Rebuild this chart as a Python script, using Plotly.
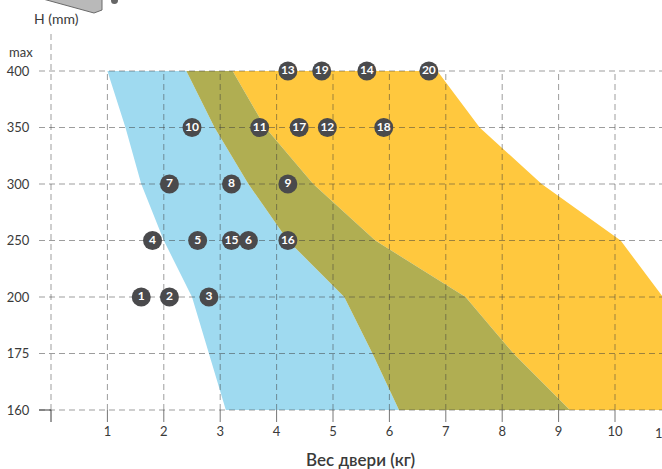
import plotly.graph_objects as go

y_labels = ["160", "175", "200", "250", "300", "350", "400"]
y_pos = [0, 1, 2, 3, 4, 5, 6]
x_ticks = [1, 2, 3, 4, 5, 6, 7, 8, 9, 10]

blue_x = [1.0, 1.32, 1.6, 2.0, 2.5, 2.8, 3.1, 6.17, 5.7, 5.2, 4.2, 3.5, 2.9, 2.4]
blue_y = [6, 5, 4, 3, 2, 1, 0, 0, 1, 2, 3, 4, 5, 6]
olive_x = [2.4, 2.9, 3.5, 4.2, 5.2, 5.7, 6.17, 9.2, 8.2, 7.35, 5.75, 4.65, 3.8, 3.22]
olive_y = [6, 5, 4, 3, 2, 1, 0, 0, 1, 2, 3, 4, 5, 6]
yellow_x = [3.22, 3.8, 4.65, 5.75, 7.35, 8.2, 9.2, 10.85, 10.85, 10.1, 8.7, 7.6, 6.85]
yellow_y = [6, 5, 4, 3, 2, 1, 0, 0, 2, 3, 4, 5, 6]

pt_labels = ["1", "2", "3", "4", "5", "15", "6", "16", "7", "8", "9",
             "10", "11", "17", "12", "18", "13", "19", "14", "20"]
pt_x = [1.6, 2.1, 2.8, 1.8, 2.6, 3.2, 3.5, 4.2, 2.1, 3.2, 4.2,
        2.5, 3.7, 4.4, 4.9, 5.9, 4.2, 4.8, 5.6, 6.7]
pt_y = [2, 2, 2, 3, 3, 3, 3, 3, 4, 4, 4, 5, 5, 5, 5, 5, 6, 6, 6, 6]

W, H = 662, 469
L, R, T, B = 39, 662, 34, 422
UX = 56.4
UY = 56.5
X0 = 51
Y0 = 410
xr = [(L - X0) / UX, (R - X0) / UX]
yr = [(Y0 - B) / UY, (Y0 - T) / UY]
INK = "#3a3a3a"
GRID = "rgba(60,60,60,0.5)"
DASH = "6px,4px"

fig = go.Figure()
for xs, ys, c in [(yellow_x, yellow_y, "#FFC83E"), (blue_x, blue_y, "#9FDAF0"), (olive_x, olive_y, "#B0AE52")]:
    fig.add_trace(go.Scatter(x=xs, y=ys, mode="lines", fill="toself", fillcolor=c,
                             line=dict(width=0), hoverinfo="skip", showlegend=False))

for p in y_pos:
    fig.add_trace(go.Scatter(x=[xr[0], xr[1]], y=[p, p], mode="lines",
                             line=dict(color=GRID, width=1, dash=DASH), showlegend=False))
for v in x_ticks:
    fig.add_trace(go.Scatter(x=[v, v], y=[0, 6], mode="lines",
                             line=dict(color=GRID, width=1, dash=DASH), showlegend=False))
    fig.add_trace(go.Scatter(x=[v, v], y=[yr[0], 0], mode="lines",
                             line=dict(color="rgba(60,60,60,0.7)", width=1), showlegend=False))
fig.add_trace(go.Scatter(x=[0, 0], y=[0, yr[1]], mode="lines",
                         line=dict(color=GRID, width=1, dash=DASH), showlegend=False))
fig.add_trace(go.Scatter(x=[0, 0], y=[yr[0], 0], mode="lines",
                         line=dict(color=INK, width=1), showlegend=False))
fig.add_trace(go.Scatter(x=[xr[0], 0], y=[0, 0], mode="lines",
                         line=dict(color=INK, width=1), showlegend=False))

fig.add_trace(go.Scatter(x=pt_x, y=pt_y, mode="markers+text", text=pt_labels,
                         textposition="middle center",
                         textfont=dict(family="Lato", size=12, color="white", weight="bold"),
                         marker=dict(size=19, color="#4A4A4C", line=dict(width=0)),
                         showlegend=False))

fig.update_xaxes(range=xr, tickmode="array", tickvals=x_ticks, ticktext=[str(v) for v in x_ticks],
                 showgrid=False, zeroline=False, showline=False, ticks="", ticklen=0,
                 tickfont=dict(family="Lato", size=13, color=INK))
fig.update_yaxes(range=yr, tickmode="array", tickvals=y_pos, ticktext=y_labels,
                 showgrid=False, zeroline=False, showline=False, ticks="outside", ticklen=6,
                 tickcolor="rgba(0,0,0,0)", tickfont=dict(family="Lato", size=13, color=INK))


def px(xp):
    return (xp - L) / (R - L)


def py(yp):
    return (B - yp) / (B - T)


def label(xp, yp, text, font, xanchor="center"):
    fig.add_annotation(xref="paper", yref="paper", x=px(xp), y=py(yp), text=text, showarrow=False,
                       xanchor=xanchor, yanchor="middle", font=font)


label(56, 19, "H (mm)", dict(family="Lato", size=14, color=INK))
label(21, 52, "max", dict(family="Lato", size=13, color=INK))
label(653, 433, "11", dict(family="Lato", size=13, color=INK), xanchor="left")
label(360, 459, "Вес двери (кг)", dict(family="Lato", size=17, color=INK, weight=600))

# Fragment of the door-operator drawing cut off by the top edge
fig.add_shape(type="path", xref="paper", yref="paper", layer="above",
              path=f"M {px(43)} {py(-1)} L {px(94)} {py(13)} L {px(102)} {py(10)} L {px(102)} {py(-1)} Z",
              fillcolor="#B9B9B9", line=dict(color="#6a6a6a", width=1))
fig.add_shape(type="circle", xref="paper", yref="paper", layer="above",
              x0=px(111), x1=px(118), y0=py(4), y1=py(-3),
              fillcolor="#666666", line=dict(width=0))

fig.update_layout(width=W, height=H, autosize=False, showlegend=False,
                  margin=dict(l=L, r=W - R, t=T, b=H - B, pad=0),
                  plot_bgcolor="white", paper_bgcolor="white", hovermode=False)
fig.write_html("out.html", config={"displayModeBar": False},
               post_script="document.body.style.margin='0';document.body.style.overflow='hidden';")
